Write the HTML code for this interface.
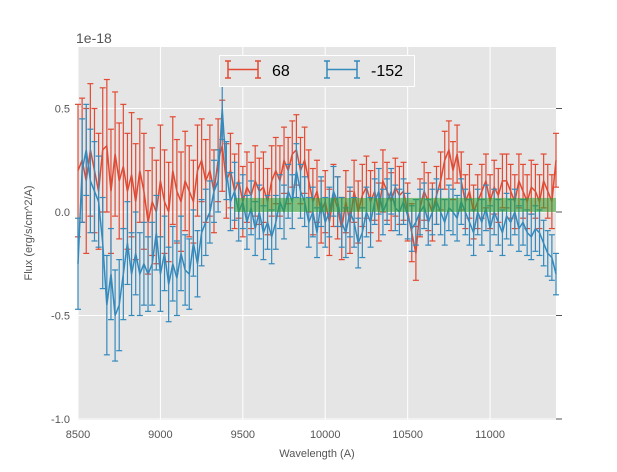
<!DOCTYPE html>
<html><head><meta charset="utf-8"><style>
body{margin:0;background:#fff;}
svg text{font-family:"Liberation Sans",sans-serif;}
</style></head><body>
<svg id="chart" width="617" height="467">
<rect x="0" y="0" width="617" height="467" fill="#fff"/>
<rect x="78" y="47" width="478" height="373" fill="#e5e5e5"/>
<g id="grid"></g>
<g id="series"></g>
<g id="axes"></g>
<text x="76" y="43" font-size="14" fill="#555">1e-18</text>
<text transform="translate(32,233) rotate(-90)" text-anchor="middle" font-size="11" fill="#555">Flux (erg/s/cm^2/A)</text>
<text x="317" y="457" text-anchor="middle" font-size="11" fill="#555">Wavelength (A)</text>
<g>
<rect x="219.5" y="55.5" width="195" height="31" fill="#e5e5e5" stroke="#fff" stroke-width="1"/>
<g stroke="#E24A33" stroke-width="1.5">
<line x1="228" y1="69.5" x2="258" y2="69.5"/>
<line x1="228" y1="61" x2="228" y2="78"/>
<line x1="258" y1="61" x2="258" y2="78"/>
<line x1="225" y1="61" x2="231" y2="61"/><line x1="225" y1="78" x2="231" y2="78"/>
<line x1="255" y1="61" x2="261" y2="61"/><line x1="255" y1="78" x2="261" y2="78"/>
</g>
<text x="272" y="76" font-size="16" fill="#000">68</text>
<g stroke="#348ABD" stroke-width="1.5">
<line x1="327" y1="69.5" x2="357" y2="69.5"/>
<line x1="327" y1="61" x2="327" y2="78"/>
<line x1="357" y1="61" x2="357" y2="78"/>
<line x1="324" y1="61" x2="330" y2="61"/><line x1="324" y1="78" x2="330" y2="78"/>
<line x1="354" y1="61" x2="360" y2="61"/><line x1="354" y1="78" x2="360" y2="78"/>
</g>
<text x="371" y="76" font-size="16" fill="#000">-152</text>
</g>
</svg>
<script>
const x0 = 8500, dx = 25;
const xTicks = [8500, 9000, 9500, 10000, 10500, 11000];
const xTickLabels = ["8500", "9000", "9500", "10000", "10500", "11000"];
const yTicks = [-1.0, -0.5, 0.0, 0.5];
const yTickLabels = ["-1.0", "-0.5", "0.0", "0.5"];
const bandRange = [9450, 11400];
const bandFlux = [0.0, 0.068];
const redFlux = [0.2,0.25,0.15,0.3,0.2,0.1,0.3,0.32,0.1,0.28,0.15,0.22,
0.1,0.18,0.05,0.2,0.1,-0.05,0.05,0.0,
0.15,0.05,0.0,0.2,0.1,0.05,0.15,0.1,
0.05,0.2,0.25,0.15,0.2,0.1,0.25,0.32,
0.15,0.2,0.1,0.15,
0.05,0.12,0.08,0.15,0.1,0.12,0.05,0.15,
0.2,0.15,0.25,0.2,0.28,0.3,0.2,0.25,
0.15,0.05,0.1,0.0,0.05,-0.05,0.08,0.02,
-0.08,0.05,-0.05,0.1,0.0,0.08,0.12,0.05,
0.1,0.0,0.15,0.1,0.05,0.12,0.08,0.1,
0.0,-0.1,-0.2,0.02,0.1,0.05,0.0,0.08,
0.15,0.25,0.3,0.2,0.28,0.15,0.05,0.1,
0.0,0.05,0.1,0.15,0.05,0.12,0.08,0.15,
0.15,0.1,0.05,0.15,0.1,0.05,0.12,0.1,
0.05,0.15,0.1,0.05,0.25];
const redErr = [0.32,0.3,0.35,0.32,0.3,0.28,0.3,0.32,0.3,0.3,0.28,0.3,
0.28,0.3,0.28,0.25,0.28,0.25,0.26,0.25,
0.27,0.25,0.24,0.26,0.25,0.24,0.24,0.22,
0.2,0.22,0.2,0.2,0.22,0.2,0.2,0.22,
0.18,0.18,0.18,0.18,
0.17,0.17,0.16,0.17,0.16,0.17,0.16,0.17,
0.16,0.17,0.16,0.16,0.16,0.17,0.16,0.16,
0.15,0.16,0.15,0.15,0.15,0.16,0.15,0.15,
0.15,0.15,0.15,0.15,0.15,0.15,0.15,0.15,
0.14,0.14,0.15,0.14,0.14,0.14,0.14,0.14,
0.14,0.14,0.13,0.14,0.14,0.14,0.14,0.14,
0.14,0.14,0.14,0.14,0.14,0.14,0.13,0.13,
0.13,0.13,0.13,0.13,0.13,0.13,0.13,0.13,
0.13,0.13,0.13,0.13,0.13,0.13,0.13,0.13,
0.13,0.13,0.13,0.13,0.13];
const blueFlux = [-0.25,0.2,0.3,0.15,0.1,0.05,-0.15,-0.45,-0.3,-0.5,-0.45,-0.3,
-0.15,-0.3,-0.2,-0.3,-0.25,-0.3,-0.25,-0.1,
-0.3,-0.2,-0.35,-0.25,-0.32,-0.2,-0.28,-0.3,
-0.15,-0.25,-0.1,-0.05,0.0,0.1,0.15,0.5,
0.2,0.05,0.1,0.0,
0.05,-0.05,0.02,-0.08,0.0,-0.1,-0.05,-0.12,
-0.05,0.05,0.0,0.1,0.05,0.2,0.1,0.05,
-0.05,0.0,-0.1,0.05,-0.05,0.0,0.1,0.05,
-0.05,-0.1,0.0,-0.05,-0.15,-0.1,0.0,-0.05,
0.05,0.1,0.0,0.05,0.1,0.02,0.0,0.05,
-0.02,-0.08,-0.05,0.0,0.03,-0.05,0.0,0.05,
0.0,-0.05,0.02,0.0,-0.03,0.05,0.0,-0.05,
-0.1,0.0,-0.05,0.02,-0.08,0.0,-0.05,-0.1,
-0.02,-0.05,0.0,-0.08,-0.05,-0.1,-0.12,-0.08,
-0.1,-0.15,-0.2,-0.22,-0.3];
const blueErr = [0.22,0.25,0.22,0.25,0.24,0.22,0.22,0.24,0.22,0.22,0.22,0.22,
0.2,0.2,0.2,0.2,0.2,0.18,0.2,0.18,
0.18,0.18,0.18,0.18,0.18,0.18,0.17,0.17,
0.16,0.16,0.16,0.16,0.15,0.15,0.15,0.15,
0.14,0.14,0.14,0.14,
0.13,0.13,0.13,0.13,0.13,0.13,0.13,0.13,
0.13,0.13,0.13,0.13,0.13,0.13,0.13,0.12,
0.12,0.12,0.12,0.12,0.12,0.12,0.12,0.12,
0.12,0.12,0.12,0.12,0.12,0.12,0.12,0.12,
0.11,0.11,0.11,0.11,0.11,0.11,0.11,0.11,
0.11,0.11,0.11,0.11,0.11,0.11,0.11,0.11,
0.11,0.11,0.11,0.11,0.11,0.11,0.11,0.11,
0.11,0.11,0.11,0.11,0.11,0.11,0.11,0.11,
0.11,0.11,0.11,0.11,0.11,0.11,0.11,0.11,
0.11,0.11,0.11,0.11,0.1];

const NS = "http://www.w3.org/2000/svg";
const L = 78, R = 556, T = 47, B = 420;
function xs(v){ return L + (v - 8500) / (11400 - 8500) * (R - L); }
function ys(v){ return 212 - v * 207; }
function mk(tag, attrs, parent){
  const e = document.createElementNS(NS, tag);
  for (const k in attrs) e.setAttribute(k, attrs[k]);
  parent.appendChild(e);
  return e;
}
const grid = document.getElementById('grid');
const axes = document.getElementById('axes');
const series = document.getElementById('series');
xTicks.forEach((t, i) => {
  const X = xs(t);
  const g = mk('line', {x1:X, y1:T, x2:X, y2:B, stroke:'#fff', 'stroke-width':1}, grid);
  
  
  const tx = mk('text', {x:X, y:438, 'text-anchor':'middle', 'font-size':11, fill:'#555'}, axes);
  tx.textContent = xTickLabels[i];
  
  
});
yTicks.forEach((t, i) => {
  const Y = ys(t);
  const g = mk('line', {x1:L, y1:Y, x2:R, y2:Y, stroke:'#fff', 'stroke-width':1}, grid);
  
  
  mk('line', {x1:R, y1:Y, x2:R+6, y2:Y, stroke:'#555'}, axes);
  const tx = mk('text', {x:70, y:Y+4, 'text-anchor':'end', 'font-size':11, fill:'#555'}, axes);
  tx.textContent = yTickLabels[i];
  
  
});
function drawSeries(flux, err, color, name){
  const g = mk('g', {}, series);
  
  
  let d = '';
  flux.forEach((v, i) => {
    const X = xs(x0 + dx * i);
    const y1 = Math.max(T, ys(v + err[i])), y2 = Math.min(B, ys(v - err[i]));
    mk('line', {x1:X, y1:y1, x2:X, y2:y2, stroke:color, 'stroke-width':1.2}, g);
    if (ys(v + err[i]) >= T) mk('line', {x1:X-3, y1:y1, x2:X+3, y2:y1, stroke:color, 'stroke-width':1.2}, g);
    mk('line', {x1:X-3, y1:y2, x2:X+3, y2:y2, stroke:color, 'stroke-width':1.2}, g);
    d += (i ? 'L' : 'M') + X.toFixed(1) + ',' + ys(v).toFixed(1);
  });
  mk('path', {d:d, fill:'none', stroke:color, 'stroke-width':1.5}, g);
}
drawSeries(redFlux, redErr, '#E24A33', 'series-68');
drawSeries(blueFlux, blueErr, '#348ABD', 'series-minus152');
const band = mk('rect', {x:xs(bandRange[0]), y:ys(bandFlux[1]), width:xs(bandRange[1])-xs(bandRange[0]), height:ys(bandFlux[0])-ys(bandFlux[1]), fill:'#2ca02c', opacity:0.55}, series);


</script>
</body></html>
